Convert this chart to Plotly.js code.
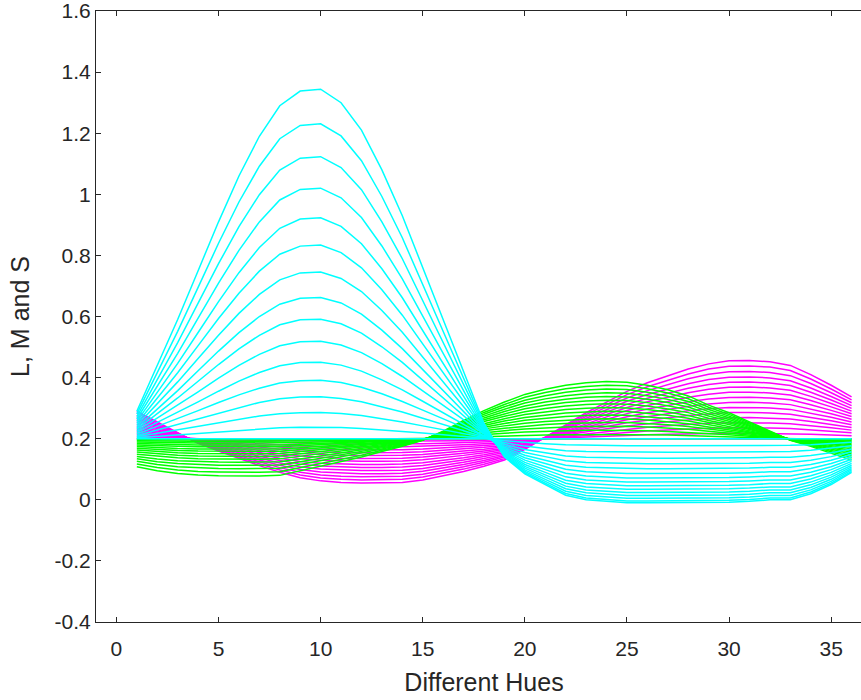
<!DOCTYPE html>
<html>
<head>
<meta charset="utf-8">
<script src="https://cdn.plot.ly/plotly-3.0.1.min.js"></script>
<style>
  html, body { margin: 0; padding: 0; overflow: hidden; background: #fff; }
  #chart { width: 872px; height: 700px; }
</style>
</head>
<body>
<div id="chart"></div>
<script>
// Hue index (x axis)
const hues = [1,2,3,4,5,6,7,8,9,10,11,12,13,14,15,16,17,18,19,20,21,22,23,24,25,26,27,28,29,30,31,32,33,34,35,36];

// Outermost (full-saturation) curves
const lOuter = [0.29,0.255,0.22,0.185,0.16,0.135,0.112,0.09,0.072,0.062,0.057,0.055,0.055,0.057,0.065,0.078,0.093,0.11,0.13,0.165,0.205,0.245,0.285,0.32,0.355,0.383,0.405,0.428,0.445,0.455,0.456,0.452,0.44,0.41,0.375,0.337];
const mOuter = [0.108,0.095,0.086,0.081,0.079,0.078,0.078,0.08,0.095,0.11,0.125,0.14,0.158,0.175,0.195,0.225,0.26,0.292,0.32,0.345,0.362,0.375,0.383,0.387,0.385,0.375,0.36,0.34,0.31,0.285,0.255,0.225,0.195,0.175,0.152,0.13];
const sOuter = [0.29,0.44,0.59,0.75,0.91,1.06,1.19,1.29,1.338,1.344,1.30,1.21,1.08,0.93,0.76,0.59,0.42,0.25,0.14,0.085,0.05,0.015,0.0,-0.005,-0.01,-0.01,-0.01,-0.01,-0.01,-0.008,-0.005,0.0,0.0,0.02,0.05,0.09];

// Neutral level where every curve family meets
const neutral = 0.2;
// Relative height of each nested curve, above and below the neutral level
const lLevelsUp   = [1.0,0.93,0.86,0.79,0.725,0.66,0.595,0.53,0.465,0.4,0.335,0.27,0.205,0.14,0.07,0.0];
const lLevelsDown = [1.0,0.93,0.86,0.79,0.72,0.65,0.58,0.51,0.445,0.38,0.315,0.25,0.185,0.12,0.06,0.0];
const mLevelsUp   = [1.0,0.935,0.87,0.805,0.74,0.675,0.61,0.545,0.48,0.415,0.35,0.285,0.22,0.15,0.075,0.0];
const mLevelsDown = [1.0,0.9,0.805,0.715,0.63,0.55,0.475,0.405,0.34,0.28,0.22,0.17,0.12,0.075,0.035,0.0];
const sLevelsUp   = [1.0,0.901,0.807,0.717,0.632,0.554,0.477,0.404,0.342,0.279,0.219,0.167,0.120,0.075,0.033,0.0];
const sLevelsDown = [1.0,0.97,0.93,0.886,0.839,0.789,0.734,0.675,0.611,0.542,0.469,0.391,0.305,0.211,0.109,0.0];

// Axis ticks
const xTicks = [0,5,10,15,20,25,30,35];
const yTicks = [-0.4,-0.2,0,0.2,0.4,0.6,0.8,1,1.2,1.4,1.6];
const yTickText = ['-0.4','-0.2','0','0.2','0.4','0.6','0.8','1','1.2','1.4','1.6'];

const families = [
  {outer: lOuter, up: lLevelsUp, down: lLevelsDown, color: '#ff00ff'},
  {outer: mOuter, up: mLevelsUp, down: mLevelsDown, color: '#00ff00'},
  {outer: sOuter, up: sLevelsUp, down: sLevelsDown, color: '#00ffff'}
];

const traces = [];
families.forEach(f => {
  f.up.forEach((ku, i) => {
    const kd = f.down[i];
    traces.push({
      type: 'scatter', mode: 'lines',
      x: hues,
      y: f.outer.map(v => neutral + (v >= neutral ? ku : kd) * (v - neutral)),
      line: {color: f.color, width: 1.5},
      hoverinfo: 'skip', showlegend: false
    });
  });
});

const FONT = 'Liberation Sans, Arial, sans-serif';
const axisCommon = {
  showline: true, linecolor: '#262626', linewidth: 1,
  ticks: 'inside', ticklen: 5, tickcolor: '#262626', tickwidth: 1,
  mirror: 'ticks', showgrid: false, zeroline: false,
  ticklabeloverflow: 'allow',
  tickfont: {family: FONT, size: 21, color: '#262626'}
};

const layout = {
  width: 872, height: 700,
  margin: {l: 96, r: 0, t: 11, b: 78},
  paper_bgcolor: '#ffffff', plot_bgcolor: '#ffffff',
  xaxis: Object.assign({}, axisCommon, {
    range: [-1, 37], tickvals: xTicks, ticktext: xTicks.map(String),
    ticklabelstandoff: 8,
    title: {text: 'Different Hues', font: {family: FONT, size: 25, color: '#262626'}, standoff: 14}
  }),
  yaxis: Object.assign({}, axisCommon, {
    range: [-0.4, 1.6001], tickvals: yTicks, ticktext: yTickText,
    title: {text: 'L, M and S', font: {family: FONT, size: 25, color: '#262626'}, standoff: 17}
  })
};

Plotly.newPlot('chart', traces, layout, {staticPlot: true, displayModeBar: false});
</script>
</body>
</html>
